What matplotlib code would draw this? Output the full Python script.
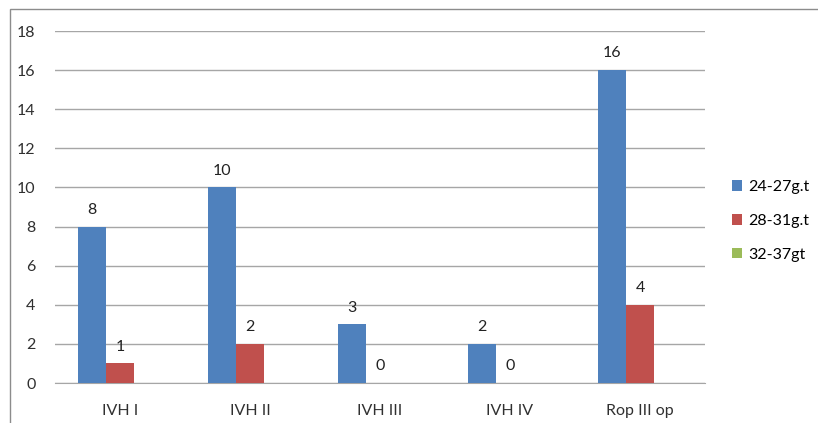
import numpy as np
import matplotlib
matplotlib.use("Agg")
import matplotlib.pyplot as plt
from matplotlib.patches import Rectangle

categories = ["IVH I", "IVH II", "IVH III", "IVH IV", "Rop III op"]
series_names = ["24-27g.t", "28-31g.t", "32-37gt"]
s1 = [8, 10, 3, 2, 16]
s2 = [1, 2, 0, 0, 4]
s3 = [np.nan, np.nan, np.nan, np.nan, np.nan]
yticks = [0, 2, 4, 6, 8, 10, 12, 14, 16, 18]

colors = ["#4F81BD", "#C0504D", "#9BBB59"]
plt.rcParams['font.family'] = ['Lato', 'DejaVu Sans']
FS = 11.5

fig = plt.figure(figsize=(8.18, 4.23), dpi=100)
fig.patch.set_facecolor("white")
# outer chart border
fig.add_artist(Rectangle((10/818, -0.01), 1.0, 1 - 9/423 + 0.01, transform=fig.transFigure,
                         fill=False, edgecolor="#8c8c8c", linewidth=1.0))

ax = fig.add_axes([55/818, 1 - 383/423, 650/818, 352/423])
x = np.arange(len(categories))
w = 0.215
data = [s1, s2, s3]
for i, (vals, name, c) in enumerate(zip(data, series_names, colors)):
    pos = x + (i - 1) * w
    ax.bar(pos, vals, width=w, color=c, label=name, zorder=3)
    if i < 2:
        for p, v in zip(pos, vals):
            if not np.isnan(v):
                ax.annotate(f"{int(v)}", (p, v), xytext=(0, 7), textcoords="offset points",
                            ha="center", va="bottom", fontsize=FS, color="#222222")

ax.set_ylim(0, 18)
ax.set_xlim(-0.5, len(categories) - 0.5)
ax.set_yticks(yticks)
ax.set_xticks(x)
ax.set_xticklabels(categories)
ax.yaxis.grid(True, color="#a6a6a6", linewidth=1.0, zorder=0)
ax.set_axisbelow(True)
for s in ["left", "right", "top"]:
    ax.spines[s].set_visible(False)
ax.spines["bottom"].set_color("#a6a6a6")
ax.tick_params(axis="both", length=0, labelsize=FS, colors="#303030")
ax.tick_params(axis="y", pad=14)
ax.tick_params(axis="x", pad=15)

leg = ax.legend(loc="center left", bbox_to_anchor=(1.02, 0.46), frameon=False, fontsize=FS,
                handlelength=0.6, handleheight=0.6, handletextpad=0.4, labelspacing=1.25)

fig.savefig("out.png", dpi=100, facecolor="white")
